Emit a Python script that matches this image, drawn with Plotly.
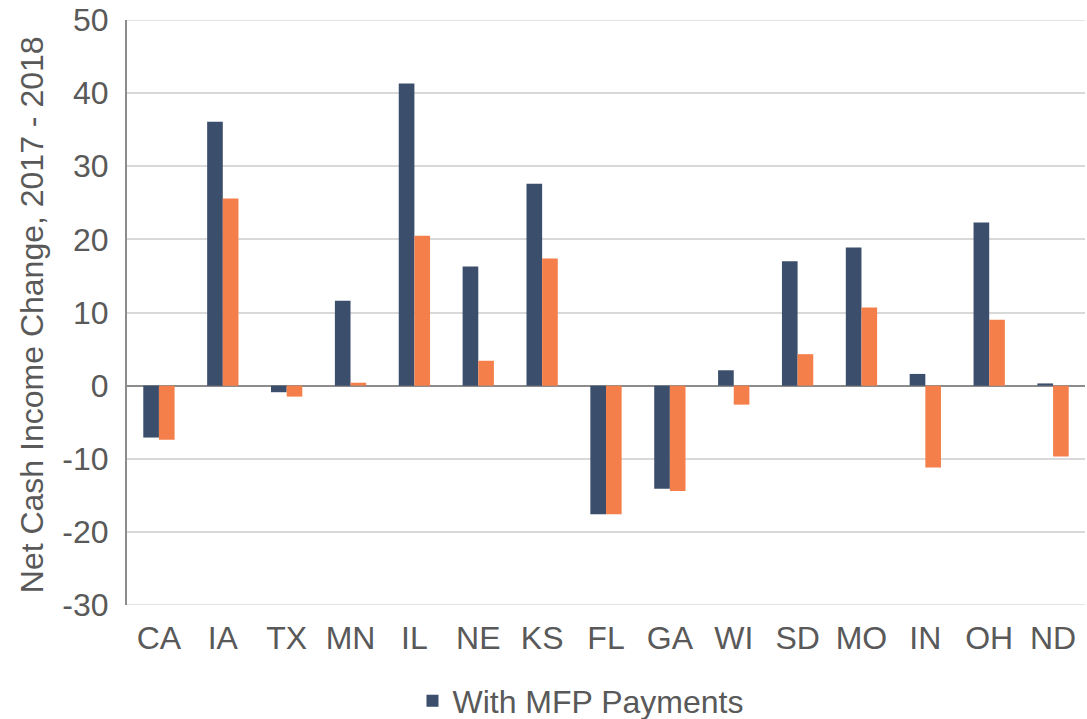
import plotly.graph_objects as go

states = ["CA", "IA", "TX", "MN", "IL", "NE", "KS", "FL", "GA", "WI", "SD", "MO", "IN", "OH", "ND"]
with_mfp = [-7.1, 36.1, -0.9, 11.6, 41.3, 16.3, 27.6, -17.6, -14.1, 2.1, 17.0, 18.9, 1.6, 22.3, 0.3]
without_mfp = [-7.4, 25.6, -1.5, 0.4, 20.5, 3.4, 17.4, -17.6, -14.4, -2.6, 4.3, 10.7, -11.2, 9.0, -9.7]
y_ticks = [-30, -20, -10, 0, 10, 20, 30, 40, 50]
y_tick_text = ["-30", "-20", "-10", "0", "10", "20", "30", "40", "50"]
y_title = "Net Cash Income Change, 2017 - 2018"

font = "Liberation Sans, Arial, sans-serif"
grey = "#595959"
grid = "#D9D9D9"
fs = 32

fig = go.Figure()
fig.add_trace(go.Bar(x=states, y=with_mfp, name="With MFP Payments",
                     marker=dict(color="#3B4E6B", line=dict(width=0))))
fig.add_trace(go.Bar(x=states, y=without_mfp, name="Without MFP Payments",
                     marker=dict(color="#F47F4A", line=dict(width=0)), showlegend=False))

# gridlines at the range ends (plotly clips those by default)
edge_lines = [dict(type="line", xref="paper", yref="y", x0=0, x1=1, y0=v, y1=v,
                   line=dict(color=grid, width=1.5), layer="below")
              for v in (y_ticks[0], y_ticks[-1])]

fig.update_layout(
    width=1087, height=719,
    margin=dict(l=127, r=2, t=20, b=114),
    paper_bgcolor="white", plot_bgcolor="white",
    barmode="group", bargap=0.51, bargroupgap=0,
    font=dict(family=font, size=fs, color=grey),
    showlegend=True,
    legend=dict(orientation="h", x=0.298, xanchor="left",
                yref="container", y=0.0250, yanchor="middle",
                font=dict(size=fs, color=grey), bgcolor="rgba(0,0,0,0)"),
    xaxis=dict(showgrid=False, showline=False, ticks="", tickfont=dict(size=fs, color=grey),
               ticklabelstandoff=11, automargin=False),
    yaxis=dict(range=[y_ticks[0], y_ticks[-1]], tickvals=y_ticks, ticktext=y_tick_text,
               showgrid=True, gridcolor=grid, gridwidth=1.5,
               zeroline=True, zerolinecolor="#8C8C8C", zerolinewidth=2,
               showline=True, linecolor="#8C8C8C", linewidth=2,
               ticks="", ticklabelstandoff=10, tickfont=dict(size=fs, color=grey),
               ticklabeloverflow="allow", automargin=False),
    shapes=edge_lines,
    annotations=[dict(text=y_title, textangle=-90, xref="paper", yref="paper",
                      x=-0.0992, y=0.497, xanchor="center", yanchor="middle",
                      showarrow=False, font=dict(size=fs, color=grey))],
)

fig.write_html("out.html", config={"displayModeBar": False},
               post_script="document.body.style.margin='0px';")
